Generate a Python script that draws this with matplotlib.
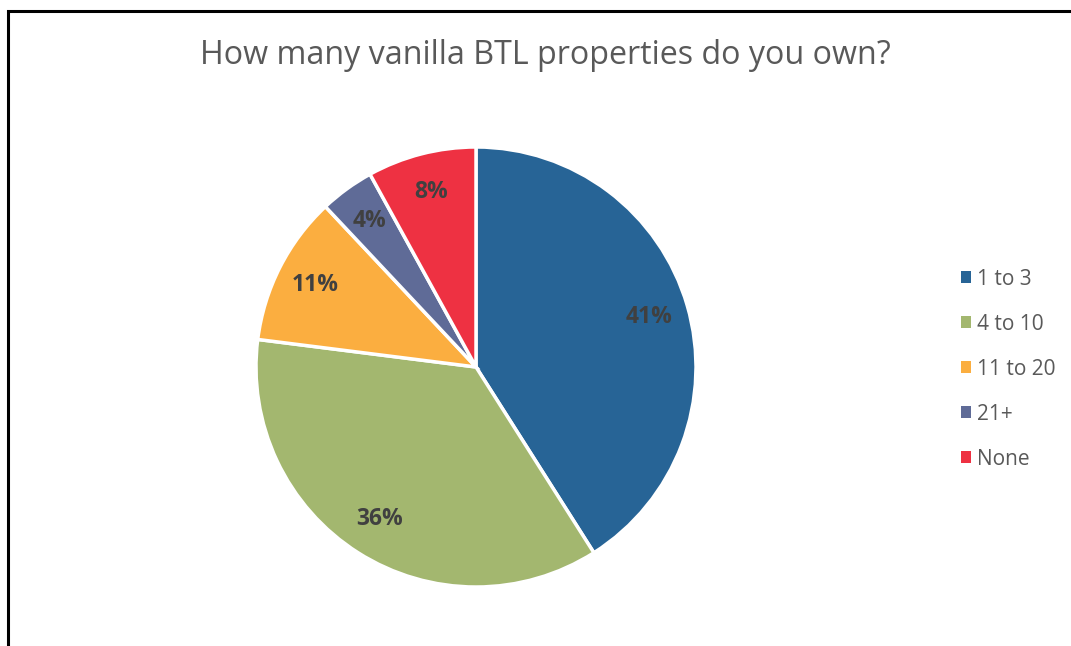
import matplotlib

matplotlib.use("Agg")
import matplotlib.pyplot as plt
from matplotlib.patches import Rectangle

# Survey answers: how many vanilla BTL properties respondents own
categories = ["1 to 3", "4 to 10", "11 to 20", "21+", "None"]
shares = [41, 36, 11, 4, 8]
colors = ["#276496", "#A3B76F", "#FBAE40", "#5F6B97", "#EE3142"]

W, H = 1071, 646
fig = plt.figure(figsize=(W / 100, H / 100), dpi=100)
fig.patch.set_facecolor("white")

# outer chart frame (left and top edges visible, runs off right/bottom)
fig.patches.append(
    Rectangle((8 / W, -0.1), 1.2, (H - 11) / H + 0.1, transform=fig.transFigure,
              fill=False, edgecolor="black", linewidth=2.2)
)

cx, cy, r = 476, 367, 220
ax = fig.add_axes([(cx - r) / W, (H - cy - r) / H, 2 * r / W, 2 * r / H])

wedges, texts, autotexts = ax.pie(
    shares,
    colors=colors,
    startangle=90,
    counterclock=False,
    autopct=lambda p: f"{p:.0f}%",
    pctdistance=0.82,
    wedgeprops=dict(edgecolor="white", linewidth=2.5),
    textprops=dict(fontsize=16.5, fontweight="bold", color="#404040",
                   family="Open Sans"),
)
ax.set_xlim(-1, 1)
ax.set_ylim(-1, 1)
ax.set_aspect("equal")
ax.axis("off")

fig.text(545 / W, 1 - 56 / H, "How many vanilla BTL properties do you own?",
         ha="center", va="center", fontsize=23.2, color="#595959",
         family="Open Sans")

leg = fig.legend(
    wedges, categories,
    loc="upper left", bbox_to_anchor=(942 / W, 1 - 250 / H),
    frameon=False, labelcolor="#595959",
    handlelength=0.5, handleheight=0.5, handletextpad=0.3,
    labelspacing=1.15, prop=dict(family="Open Sans", size=15),
)
for h in leg.legend_handles:
    h.set_edgecolor("none")

fig.savefig("out.png", dpi=100)
